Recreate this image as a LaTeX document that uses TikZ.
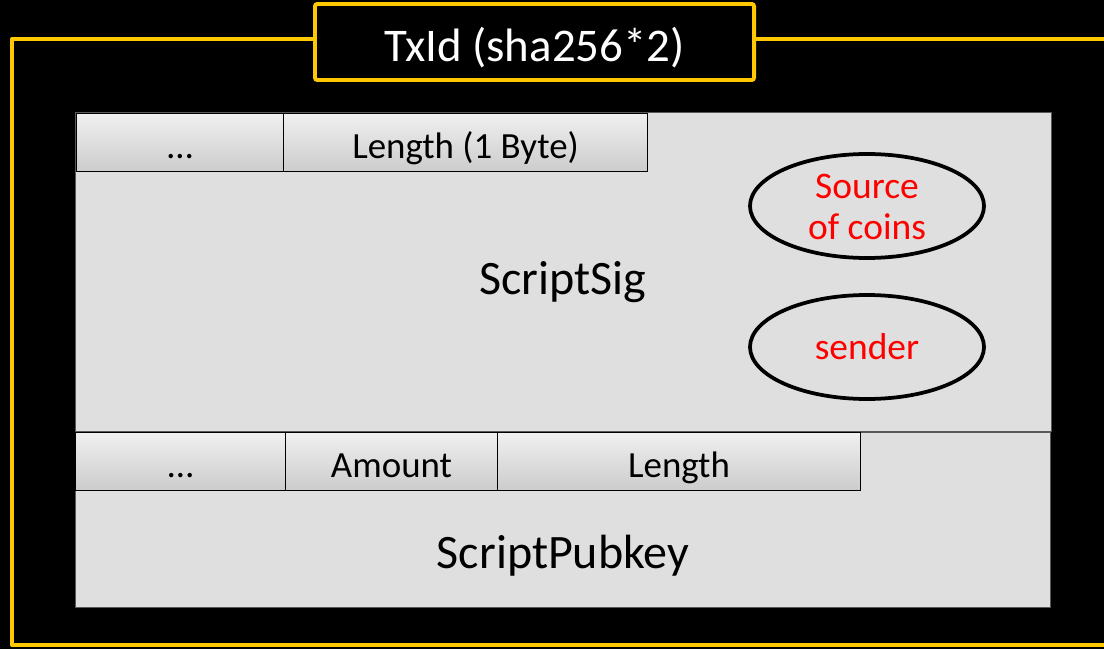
\documentclass[tikz,border=0pt]{standalone}
\usepackage{fontspec}
\setmainfont{Carlito}
\usetikzlibrary{shapes.geometric,calc}
\definecolor{gold}{HTML}{FFC800}
\definecolor{panel}{HTML}{DFDFDF}
\definecolor{redtxt}{HTML}{FF0000}
\tikzset{
  px/.style={x=0.03cm,y=-0.03cm},
  panelbox/.style={fill=panel,draw=gray!70!black,line width=0.6pt},
  fieldbox/.style={draw=black,line width=0.9pt,top color=gray!12,bottom color=gray!40,inner sep=0pt},
  oval/.style={ellipse,draw=black,line width=3.2pt,minimum width=234*0.03cm,minimum height=104*0.03cm,inner sep=0pt,text=redtxt,font=\fontsize{32}{35}\selectfont,align=center},
  bigtxt/.style={font=\fontsize{41}{45}\selectfont},
  smalltxt/.style={font=\fontsize{31.5}{34}\selectfont},
}
\begin{document}
\begin{tikzpicture}[px]
\fill[black] (0,0) rectangle (1104,649);
\useasboundingbox (0,0) rectangle (1104,649);
% outer frame
\coordinate (fr1) at (1110,39);
\coordinate (fr2) at (12,39);
\coordinate (fr3) at (12,645);
\coordinate (fr4) at (1110,645);
\draw[gold,line width=3.4pt,line join=round] (fr1) -- (fr2) -- (fr3) -- (fr4);
% title
\node[draw=gold,fill=black,line width=3.4pt,rounded corners=2pt,minimum width=439*0.03cm,minimum height=76*0.03cm] (title) at (534.5,42) {};
\node[text=white,font=\fontsize{40}{44}\selectfont] (titletxt) at ($(title.center)+(0,6)$) {TxId (sha256*2)};
% ScriptSig panel
\node[panelbox,minimum width=976*0.03cm,minimum height=319*0.03cm,anchor=north west,inner sep=0pt] (sig) at (75,112) {};
\node[bigtxt] (sigtxt) at (563,282) {ScriptSig};
\node[fieldbox,minimum width=207*0.03cm,minimum height=58*0.03cm,anchor=north west] (d1) at (76,113) {};
\node[smalltxt] (d1t) at ($(d1.center)+(0,14)$) {\dots};
\node[fieldbox,minimum width=364*0.03cm,minimum height=58*0.03cm,anchor=north west] (len1) at (283,113) {};
\node[smalltxt] (len1t) at ($(len1.center)+(0,6)$) {Length (1 Byte)};
\node[oval] (src) at (867,206) {};
\node[text=redtxt,font=\fontsize{32}{35}\selectfont,align=center] (srct) at ($(src.center)+(0,1)$) {Source\\of coins};
\node[oval] (snd) at (867,347) {sender};
% ScriptPubkey panel
\node[panelbox,minimum width=975*0.03cm,minimum height=175*0.03cm,anchor=north west,inner sep=0pt] (pub) at (75,432) {};
\node[bigtxt] (pubtxt) at (563,556) {ScriptPubkey};
\node[fieldbox,minimum width=210*0.03cm,minimum height=58*0.03cm,anchor=north west] (d2) at (75,432) {};
\node[smalltxt] (d2t) at ($(d2.center)+(0,14)$) {\dots};
\node[fieldbox,minimum width=212*0.03cm,minimum height=58*0.03cm,anchor=north west] (amt) at (285,432) {};
\node[smalltxt] (amtt) at ($(amt.center)+(0,4)$) {Amount};
\node[fieldbox,minimum width=363*0.03cm,minimum height=58*0.03cm,anchor=north west] (len2) at (497,432) {};
\node[smalltxt] (len2t) at ($(len2.center)+(0,6)$) {Length};
\end{tikzpicture}
\end{document}
